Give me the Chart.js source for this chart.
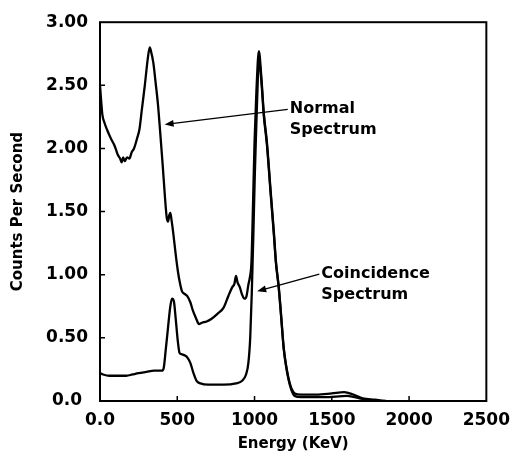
<!DOCTYPE html>
<html>
<head>
<meta charset="utf-8">
<title>Energy Spectrum</title>
<script src="https://cdn.jsdelivr.net/npm/chart.js@4.4.1/dist/chart.umd.min.js"></script>
<style>
  html, body { margin: 0; padding: 0; background: #fff; }
  #wrap { width: 519px; height: 455px; }
</style>
</head>
<body>
<div id="wrap"><canvas id="spectrum"></canvas></div>
<script>
// Normal spectrum (energy in KeV, counts per second)
var normalEnergy = [0, 8, 15, 30, 45, 70, 95, 115, 130, 140, 150, 160, 175, 190, 205, 220, 240, 255, 270, 290,
  310, 322, 330, 345, 360, 375, 390, 405, 420, 432, 440, 448, 455, 462, 475, 490, 505, 518, 530, 545,
  565, 585, 600, 620, 640, 660, 690, 720, 760, 800, 830, 855, 870, 880, 890, 905, 920, 935, 948, 960,
  970, 980, 990, 1000, 1012, 1028, 1045, 1060, 1080, 1105, 1125, 1138, 1157, 1170, 1189, 1202, 1228, 1260,
  1300, 1400, 1500, 1580, 1640, 1700, 1780, 1850];
var normalCounts = [2.50, 2.37, 2.27, 2.20, 2.15, 2.08, 2.02, 1.95, 1.92, 1.89, 1.93, 1.90, 1.93, 1.92, 1.97, 2.00, 2.08, 2.15, 2.30, 2.50,
  2.72, 2.80, 2.77, 2.68, 2.52, 2.35, 2.12, 1.88, 1.62, 1.45, 1.42, 1.47, 1.49, 1.44, 1.32, 1.16, 1.02, 0.93, 0.87, 0.85,
  0.83, 0.78, 0.72, 0.66, 0.61, 0.62, 0.63, 0.65, 0.69, 0.74, 0.83, 0.90, 0.93, 0.99, 0.94, 0.90, 0.84, 0.81, 0.83, 0.92,
  0.98, 1.10, 1.55, 2.05, 2.45, 2.77, 2.55, 2.28, 2.05, 1.65, 1.34, 1.11, 0.90, 0.71, 0.42, 0.30, 0.14, 0.06,
  0.05, 0.05, 0.06, 0.07, 0.05, 0.02, 0.01, 0.00];

// Coincidence spectrum
var coincEnergy = [0, 20, 60, 120, 170, 210, 250, 300, 350, 400, 412, 425, 440, 455, 466, 478, 490, 503, 515, 530,
  550, 568, 585, 605, 625, 650, 700, 800, 880, 920, 945, 960, 972, 982, 992, 1002, 1012, 1020, 1028, 1045,
  1060, 1080, 1105, 1125, 1138, 1157, 1170, 1189, 1202, 1228, 1260, 1300, 1450, 1600, 1680, 1750];
var coincCounts = [0.22, 0.21, 0.20, 0.20, 0.20, 0.21, 0.22, 0.23, 0.24, 0.24, 0.26, 0.40, 0.58, 0.75, 0.81, 0.79, 0.65, 0.48, 0.38, 0.37,
  0.36, 0.34, 0.30, 0.22, 0.16, 0.14, 0.13, 0.13, 0.14, 0.16, 0.21, 0.30, 0.50, 0.85, 1.30, 1.80, 2.20, 2.50, 2.72, 2.52,
  2.26, 2.03, 1.63, 1.32, 1.10, 0.89, 0.70, 0.41, 0.29, 0.13, 0.04, 0.03, 0.03, 0.04, 0.02, 0.00];

var xTicks = [0, 500, 1000, 1500, 2000, 2500];
var yTicks = [0, 0.5, 1.0, 1.5, 2.0, 2.5, 3.0];

// Callout labels: text lines, text anchor, arrow tail and arrow tip (data units)
var callouts = [
  { lines: ['Normal', 'Spectrum'], at: [1228, 2.31], tail: [1215, 2.31], tip: [418, 2.19] },
  { lines: ['Coincidence', 'Spectrum'], at: [1432, 1.01], tail: [1419, 1.005], tip: [1017, 0.87] }
];

var FONT = "'DejaVu Sans', sans-serif";

function toPoints(xs, ys) {
  return xs.map(function(x, i) { return { x: x, y: ys[i] }; });
}

// Frame around the plot with short inward tick marks
var framePlugin = {
  id: 'frame',
  afterDraw: function(chart) {
    var ctx = chart.ctx;
    var a = chart.chartArea;
    var xs = chart.scales.x, ys = chart.scales.y;
    ctx.save();
    ctx.strokeStyle = '#000';
    ctx.lineWidth = 2;
    ctx.strokeRect(a.left, a.top, a.right - a.left, a.bottom - a.top);
    ctx.lineWidth = 1.5;
    ctx.beginPath();
    xTicks.slice(1, -1).forEach(function(v) {
      var px = xs.getPixelForValue(v);
      ctx.moveTo(px, a.bottom);
      ctx.lineTo(px, a.bottom - 5);
    });
    yTicks.slice(1, -1).forEach(function(v) {
      var py = ys.getPixelForValue(v);
      ctx.moveTo(a.left, py);
      ctx.lineTo(a.left + 5, py);
    });
    ctx.stroke();
    ctx.restore();
  }
};

// Arrows pointing at each curve, with their labels
var calloutPlugin = {
  id: 'callouts',
  afterDatasetsDraw: function(chart) {
    var ctx = chart.ctx;
    var xs = chart.scales.x, ys = chart.scales.y;
    ctx.save();
    callouts.forEach(function(c) {
      var x0 = xs.getPixelForValue(c.tail[0]), y0 = ys.getPixelForValue(c.tail[1]);
      var x1 = xs.getPixelForValue(c.tip[0]), y1 = ys.getPixelForValue(c.tip[1]);
      var ang = Math.atan2(y1 - y0, x1 - x0);
      ctx.strokeStyle = '#000';
      ctx.fillStyle = '#000';
      ctx.lineWidth = 1.3;
      ctx.beginPath();
      ctx.moveTo(x0, y0);
      ctx.lineTo(x1 - 7 * Math.cos(ang), y1 - 7 * Math.sin(ang));
      ctx.stroke();
      ctx.beginPath();
      ctx.moveTo(x1, y1);
      ctx.lineTo(x1 - 9 * Math.cos(ang) + 3.5 * Math.sin(ang), y1 - 9 * Math.sin(ang) - 3.5 * Math.cos(ang));
      ctx.lineTo(x1 - 9 * Math.cos(ang) - 3.5 * Math.sin(ang), y1 - 9 * Math.sin(ang) + 3.5 * Math.cos(ang));
      ctx.closePath();
      ctx.fill();

      var tx = xs.getPixelForValue(c.at[0]), ty = ys.getPixelForValue(c.at[1]);
      ctx.font = 'bold 16px ' + FONT;
      ctx.textAlign = 'left';
      ctx.textBaseline = 'middle';
      c.lines.forEach(function(line, i) {
        ctx.fillText(line, tx, ty + i * 21);
      });
    });
    ctx.restore();
  }
};

var lineStyle = {
  borderColor: '#000',
  borderWidth: 2.3,
  pointRadius: 0,
  fill: false,
  tension: 0.25,
  cubicInterpolationMode: 'monotone'
};

new Chart(document.getElementById('spectrum'), {
  type: 'line',
  data: {
    datasets: [
      Object.assign({ label: 'Normal Spectrum', data: toPoints(normalEnergy, normalCounts) }, lineStyle),
      Object.assign({ label: 'Coincidence Spectrum', data: toPoints(coincEnergy, coincCounts) }, lineStyle)
    ]
  },
  options: {
    responsive: true,
    maintainAspectRatio: false,
    animation: false,
    layout: { padding: { top: 19, right: 28, bottom: 0, left: 0 } },
    plugins: {
      legend: { display: false },
      tooltip: { enabled: false }
    },
    scales: {
      x: {
        type: 'linear',
        min: 0,
        max: 2500,
        afterBuildTicks: function(scale) {
          scale.ticks = xTicks.map(function(v) { return { value: v }; });
        },
        afterFit: function(scale) { scale.height = 54; },
        grid: { display: false, drawTicks: false },
        border: { display: false },
        ticks: {
          color: '#000',
          padding: 9,
          maxRotation: 0,
          font: { family: FONT, size: 17, weight: 'bold' },
          callback: function(v) { return v === 0 ? '0.0' : String(v); }
        },
        title: {
          display: true,
          text: 'Energy (KeV)',
          color: '#000',
          padding: { top: 0, bottom: 2 },
          font: { family: FONT, size: 15, weight: 'bold' }
        }
      },
      y: {
        min: 0,
        max: 3,
        afterBuildTicks: function(scale) {
          scale.ticks = yTicks.map(function(v) { return { value: v }; });
        },
        afterFit: function(scale) { scale.width = 100; },
        grid: { display: false, drawTicks: false },
        border: { display: false },
        ticks: {
          color: '#000',
          padding: 12,
          crossAlign: 'center',
          font: { family: FONT, size: 17, weight: 'bold' },
          callback: function(v) { return v === 0 ? '0.0' : v.toFixed(2); }
        },
        title: {
          display: true,
          text: 'Counts Per Second',
          color: '#000',
          padding: { top: 9, bottom: 0 },
          font: { family: FONT, size: 15, weight: 'bold' }
        }
      }
    }
  },
  plugins: [framePlugin, calloutPlugin]
});
</script>
</body>
</html>
